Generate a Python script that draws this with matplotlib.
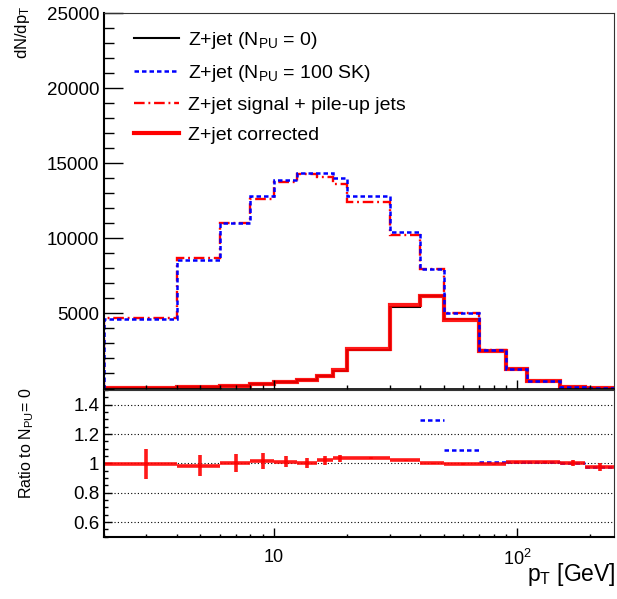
import numpy as np
import matplotlib
matplotlib.use("Agg")
import matplotlib.pyplot as plt
from matplotlib.ticker import FixedLocator, MultipleLocator, NullFormatter, FuncFormatter, LogLocator
from matplotlib.lines import Line2D

plt.rcParams["font.family"] = ["Liberation Sans", "DejaVu Sans"]
plt.rcParams["mathtext.fontset"] = "custom"
plt.rcParams["mathtext.rm"] = "Liberation Sans"
plt.rcParams["mathtext.it"] = "Liberation Sans:italic"
plt.rcParams["mathtext.bf"] = "Liberation Sans:bold"

# ----------------------------------------------------------------------------
# Data
# ----------------------------------------------------------------------------
edges = [2, 4, 6, 8, 10, 12.5, 15, 17.5, 20, 30, 40, 50, 70, 90, 110, 150, 190, 250]

npu0 = [15, 100, 190, 280, 433, 586, 832, 1165, 2563, 5446, 6159, 4607, 2520, 1270, 515, 120, 20]
sk100 = [4650, 8580, 11040, 12820, 13880, 14330, 14370, 14040, 12820, 10420, 7960, 5030,
         2545, 1280, 521, 120, 19.5]
sig_pu = [4680, 8670, 11040, 12620, 13730, 14280, 14100, 13620, 12400, 10200, 7980, 5050,
          2530, 1275, 520, 120, 20]

# corrected / NPU=0 ratio and its uncertainty
corr_ratio = [0.995, 0.984, 1.002, 1.018, 1.011, 1.002, 1.020, 1.034, 1.034, 1.020, 1.000,
              0.995, 0.993, 1.007, 1.011, 1.002, 0.975]
corr_err = [0.10, 0.07, 0.059, 0.054, 0.039, 0.033, 0.030, 0.023, 0.006, 0.004, 0.004,
            0.004, 0.005, 0.006, 0.008, 0.018, 0.025]

labels = [r"Z+jet (N$_{\mathrm{PU}}$ = 0)",
          r"Z+jet (N$_{\mathrm{PU}}$ = 100 SK)",
          "Z+jet signal + pile-up jets",
          "Z+jet corrected"]

# ----------------------------------------------------------------------------
# Derived
# ----------------------------------------------------------------------------
edges_a = np.array(edges, dtype=float)
lo, hi = edges_a[:-1], edges_a[1:]
centers = 0.5 * (lo + hi)
npu0_a = np.array(npu0, dtype=float)
corr = npu0_a * np.array(corr_ratio)
sk_ratio = np.array(sk100) / npu0_a

BLUE = "#0000ff"
RED = "#ff0000"
DOT = (0, (1.8, 1.2))
DASHDOT = (0, (4.5, 1.6, 0.8, 1.6))

fig = plt.figure(figsize=(6.17, 5.99), dpi=100)
W, H = 617.0, 599.0
L, R = 103.5 / W, 614.0 / W
ax = fig.add_axes([L, 1 - 388.5 / H, R - L, (388.5 - 13) / H])
axr = fig.add_axes([L, 1 - 536.7 / H, R - L, (536.7 - 390) / H])

# ---- top panel
ax.stairs(npu0, edges, color="black", lw=1.5, baseline=0)
ax.stairs(corr, edges, color=RED, lw=3.0, alpha=0.9, baseline=0)
ax.stairs(sig_pu, edges, color=RED, lw=1.7, baseline=0, linestyle=DASHDOT)
ax.stairs(sk100, edges, color=BLUE, lw=1.8, baseline=0, linestyle=DOT)

ax.set_xscale("log")
ax.set_xlim(2, 250)
ax.set_ylim(0, 25000)
ax.yaxis.set_major_locator(FixedLocator([5000, 10000, 15000, 20000, 25000]))
ax.yaxis.set_minor_locator(MultipleLocator(1000))
ax.xaxis.set_major_formatter(NullFormatter())
ax.xaxis.set_minor_formatter(NullFormatter())
ax.tick_params(axis="y", which="major", direction="in", length=13.5, width=1.0,
               labelsize=13.5, pad=3)
ax.tick_params(axis="y", which="minor", direction="in", length=7, width=1.0)
ax.tick_params(axis="x", which="major", direction="in", length=6.5, width=1.0)
ax.tick_params(axis="x", which="minor", direction="in", length=3, width=1.0)
for s in ["top", "right"]:
    ax.spines[s].set_linewidth(0.8)
    ax.spines[s].set_color("#333333")
ax.spines["left"].set_linewidth(1.5)
ax.spines["bottom"].set_linewidth(1.2)

handles = [
    Line2D([], [], color="black", lw=1.5),
    Line2D([], [], color=BLUE, lw=1.8, linestyle=DOT),
    Line2D([], [], color=RED, lw=1.7, linestyle=DASHDOT),
    Line2D([], [], color=RED, lw=3.0),
]
ax.legend(handles, labels, loc="upper left", bbox_to_anchor=(0.06, 0.955),
          frameon=False, fontsize=14, handlelength=2.3, handletextpad=0.45,
          labelspacing=0.63, borderpad=0, borderaxespad=0)

# ---- ratio panel
for yv in [0.6, 0.8, 1.0, 1.2, 1.4]:
    axr.axhline(yv, color="black", lw=0.8, ls=(0, (1, 2)))
axr.hlines(sk_ratio, lo, hi, color=BLUE, lw=1.8, linestyle=DOT)
axr.errorbar(centers, corr_ratio, yerr=corr_err, xerr=[centers - lo, hi - centers],
             fmt="none", ecolor=RED, elinewidth=2.6, capsize=0, alpha=0.9)


def log_label(v, pos):
    if abs(v - 10) < 1e-6:
        return "10"
    return r"$10^{%d}$" % round(np.log10(v))


axr.set_xscale("log")
axr.set_xlim(2, 250)
axr.set_ylim(0.5, 1.5)
axr.yaxis.set_major_locator(FixedLocator([0.6, 0.8, 1.0, 1.2, 1.4]))
axr.yaxis.set_minor_locator(MultipleLocator(0.05))
axr.yaxis.set_major_formatter(FuncFormatter(lambda v, p: f"{v:g}"))
axr.xaxis.set_major_locator(FixedLocator([10, 100]))
axr.xaxis.set_major_formatter(FuncFormatter(log_label))
axr.xaxis.set_minor_locator(LogLocator(base=10, subs=np.arange(2, 10), numticks=10))
axr.xaxis.set_minor_formatter(NullFormatter())
axr.tick_params(axis="y", which="major", direction="in", length=6, width=1.0,
                labelsize=13.5, pad=3)
axr.tick_params(axis="y", which="minor", direction="in", length=3, width=1.0)
axr.tick_params(axis="x", which="major", direction="in", length=6.3, width=1.0,
                labelsize=13, pad=9)
axr.tick_params(axis="x", which="minor", direction="in", length=2.5, width=1.0)
for s in ["top", "right"]:
    axr.spines[s].set_linewidth(0.8)
    axr.spines[s].set_color("#333333")
axr.spines["left"].set_linewidth(1.5)
axr.spines["bottom"].set_linewidth(1.5)

# ---- axis titles
fig.text(22 / W, 1 - 6 / H, r"dN/dp$_{\mathrm{T}}$", rotation=90, ha="center", va="top",
         fontsize=12)
fig.text(27 / W, 1 - 443 / H, r"Ratio to N$_{\mathrm{PU}}$= 0", rotation=90, ha="center",
         va="center", fontsize=11.5)
fig.text(616 / W, 1 - 581 / H, r"p$_{\mathrm{T}}$ [GeV]", ha="right", va="baseline",
         fontsize=16.5)

fig.savefig("out.png", dpi=100)
